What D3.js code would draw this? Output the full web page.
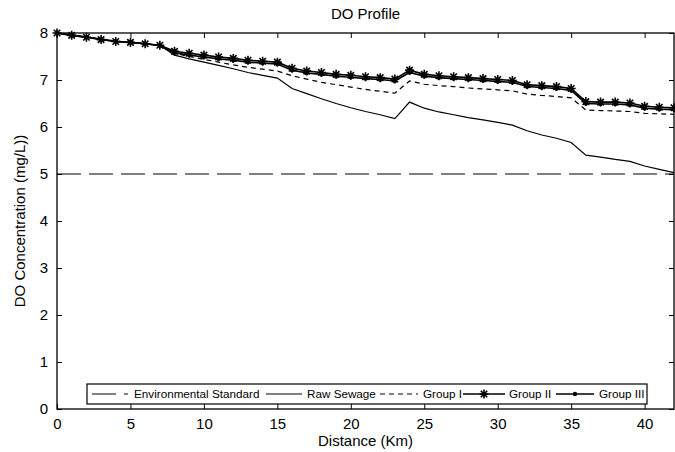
<!DOCTYPE html>
<html>
<head>
<meta charset="utf-8">
<script src="https://cdn.jsdelivr.net/npm/d3@7"></script>
<style>
  body { margin: 0; background: #fff; }
  svg { font-family: "Liberation Sans", Arial, sans-serif; }
</style>
</head>
<body>
<div id="canvas"></div>
<script>
// distance along the river (km), one point per km
var distance = d3.range(0, 43);

var rawSewage = [8.00, 7.96, 7.92, 7.87, 7.83, 7.80, 7.77, 7.74, 7.53, 7.45,
  7.38, 7.31, 7.24, 7.16, 7.10, 7.04, 6.82, 6.71, 6.60, 6.50,
  6.41, 6.33, 6.26, 6.18, 6.53, 6.40, 6.32, 6.26, 6.20, 6.15,
  6.10, 6.04, 5.92, 5.83, 5.76, 5.67, 5.40, 5.36, 5.31, 5.27,
  5.17, 5.10, 5.03];

var groupI = [8.00, 7.96, 7.92, 7.87, 7.83, 7.80, 7.77, 7.74, 7.57, 7.50,
  7.44, 7.38, 7.32, 7.27, 7.23, 7.19, 7.09, 7.02, 6.95, 6.90,
  6.85, 6.80, 6.76, 6.72, 6.98, 6.91, 6.88, 6.86, 6.83, 6.81,
  6.79, 6.77, 6.70, 6.67, 6.65, 6.62, 6.36, 6.35, 6.34, 6.33,
  6.29, 6.28, 6.27];

var groupII = [8.00, 7.95, 7.91, 7.86, 7.82, 7.80, 7.77, 7.74, 7.61, 7.57,
  7.53, 7.49, 7.46, 7.42, 7.40, 7.38, 7.25, 7.19, 7.16, 7.12,
  7.10, 7.07, 7.05, 7.02, 7.21, 7.12, 7.09, 7.07, 7.05, 7.03,
  7.01, 6.99, 6.90, 6.88, 6.86, 6.82, 6.54, 6.53, 6.53, 6.51,
  6.44, 6.42, 6.41];

var groupIII = [8.00, 7.95, 7.91, 7.86, 7.82, 7.80, 7.77, 7.73, 7.58, 7.53,
  7.49, 7.45, 7.42, 7.38, 7.36, 7.34, 7.21, 7.15, 7.12, 7.08,
  7.06, 7.03, 7.01, 6.98, 7.16, 7.08, 7.05, 7.03, 7.01, 6.99,
  6.97, 6.95, 6.86, 6.84, 6.82, 6.78, 6.50, 6.49, 6.49, 6.47,
  6.40, 6.38, 6.37];

var standard = 5;

var xTicks = [0, 5, 10, 15, 20, 25, 30, 35, 40];
var yTicks = [0, 1, 2, 3, 4, 5, 6, 7, 8];

var legendLabels = ["Environmental Standard", "Raw Sewage", "Group I", "Group II", "Group III"];

var W = 675, H = 452;
var margin = {top: 33, right: 1, bottom: 43, left: 57};
var width = W - margin.left - margin.right,
    height = H - margin.top - margin.bottom;

var svg = d3.select("#canvas").append("svg")
    .attr("width", W)
    .attr("height", H);

var g = svg.append("g")
    .attr("transform", "translate(" + margin.left + "," + margin.top + ")");

var x = d3.scaleLinear().domain([0, 42]).range([0, width]);
var y = d3.scaleLinear().domain([0, 8]).range([height, 0]);

// axes with inward ticks, mirrored on top and right
function styleAxis(sel) {
  sel.select(".domain").remove();
  sel.selectAll(".tick line").attr("stroke", "#000").attr("stroke-width", 1);
  sel.selectAll(".tick text").attr("fill", "#000").style("font-size", "15px");
}

g.append("g")
    .attr("transform", "translate(0," + height + ")")
    .call(d3.axisBottom(x).tickValues(xTicks).tickSize(-5).tickPadding(9))
    .call(styleAxis);
g.append("g")
    .call(d3.axisTop(x).tickValues(xTicks).tickSize(-5).tickFormat(""))
    .call(styleAxis);
g.append("g")
    .call(d3.axisLeft(y).tickValues(yTicks).tickSize(-5).tickPadding(9))
    .call(styleAxis);
g.append("g")
    .attr("transform", "translate(" + width + ",0)")
    .call(d3.axisRight(y).tickValues(yTicks).tickSize(-5).tickFormat(""))
    .call(styleAxis);

g.append("rect")
    .attr("width", width).attr("height", height)
    .attr("fill", "none").attr("stroke", "#000").attr("stroke-width", 1.3);

// standard line
g.append("line")
    .attr("x1", 0).attr("x2", width)
    .attr("y1", y(standard)).attr("y2", y(standard))
    .attr("stroke", "#000").attr("stroke-width", 1.1)
    .attr("stroke-dasharray", "24,8");

var line = d3.line()
    .x(function(d, i) { return x(distance[i]); })
    .y(function(d) { return y(d); });

g.append("path").datum(rawSewage)
    .attr("d", line).attr("fill", "none")
    .attr("stroke", "#000").attr("stroke-width", 1.2);

g.append("path").datum(groupI)
    .attr("d", line).attr("fill", "none")
    .attr("stroke", "#000").attr("stroke-width", 1.2)
    .attr("stroke-dasharray", "5,4");

g.append("path").datum(groupIII)
    .attr("d", line).attr("fill", "none")
    .attr("stroke", "#000").attr("stroke-width", 1.6);

g.append("path").datum(groupII)
    .attr("d", line).attr("fill", "none")
    .attr("stroke", "#000").attr("stroke-width", 1.6);

// markers
function starPath(r) {
  var a = r * 0.72;
  return "M0," + (-r) + "V" + r + "M" + (-r) + ",0H" + r +
    "M" + (-a) + "," + (-a) + "L" + a + "," + a +
    "M" + (-a) + "," + a + "L" + a + "," + (-a);
}

g.selectAll(".dot3")
    .data(groupIII)
    .enter().append("circle")
      .attr("class", "dot3")
      .attr("cx", function(d, i) { return x(distance[i]); })
      .attr("cy", function(d) { return y(d); })
      .attr("r", 2.2)
      .attr("fill", "#000");

g.selectAll(".star2")
    .data(groupII)
    .enter().append("path")
      .attr("class", "star2")
      .attr("transform", function(d, i) { return "translate(" + x(distance[i]) + "," + y(d) + ")"; })
      .attr("d", starPath(4.5))
      .attr("stroke", "#000").attr("stroke-width", 1.6)
      .attr("fill", "none");

// legend
var leg = svg.append("g");
leg.append("rect")
    .attr("x", 87).attr("y", 384)
    .attr("width", 560).attr("height", 20)
    .attr("fill", "#fff").attr("stroke", "#000").attr("stroke-width", 1.2);

var ly = 394;
var items = [
  {x1: 92, x2: 128, tx: 134, dash: "24,8"},
  {x1: 266, x2: 302, tx: 307, dash: null},
  {x1: 380, x2: 418, tx: 423, dash: "5,4"},
  {x1: 463, x2: 505, tx: 509, dash: null, marker: "star"},
  {x1: 556, x2: 594, tx: 599, dash: null, marker: "dot"}
];

items.forEach(function(it, i) {
  leg.append("line")
      .attr("x1", it.x1).attr("x2", it.x2)
      .attr("y1", ly).attr("y2", ly)
      .attr("stroke", "#000")
      .attr("stroke-width", it.marker ? 1.6 : 1.1)
      .attr("stroke-dasharray", it.dash);
  var mx = (it.x1 + it.x2) / 2;
  if (it.marker === "star") {
    leg.append("path")
        .attr("transform", "translate(" + mx + "," + ly + ")")
        .attr("d", starPath(4.5))
        .attr("stroke", "#000").attr("stroke-width", 1.6).attr("fill", "none");
  } else if (it.marker === "dot") {
    leg.append("circle").attr("cx", mx).attr("cy", ly).attr("r", 2.2).attr("fill", "#000");
  }
  leg.append("text")
      .attr("x", it.tx).attr("y", ly)
      .attr("dy", "0.35em")
      .style("font-size", "11.7px")
      .text(legendLabels[i]);
});

// titles
svg.append("text")
    .attr("x", margin.left + width / 2).attr("y", 19)
    .attr("text-anchor", "middle")
    .style("font-size", "15px")
    .text("DO Profile");

svg.append("text")
    .attr("x", margin.left + width / 2).attr("y", 446)
    .attr("text-anchor", "middle")
    .style("font-size", "15px")
    .text("Distance (Km)");

svg.append("text")
    .attr("transform", "translate(25," + (margin.top + height / 2) + ") rotate(-90)")
    .attr("text-anchor", "middle")
    .style("font-size", "15px")
    .text("DO Concentration (mg/L))");
</script>
</body>
</html>
